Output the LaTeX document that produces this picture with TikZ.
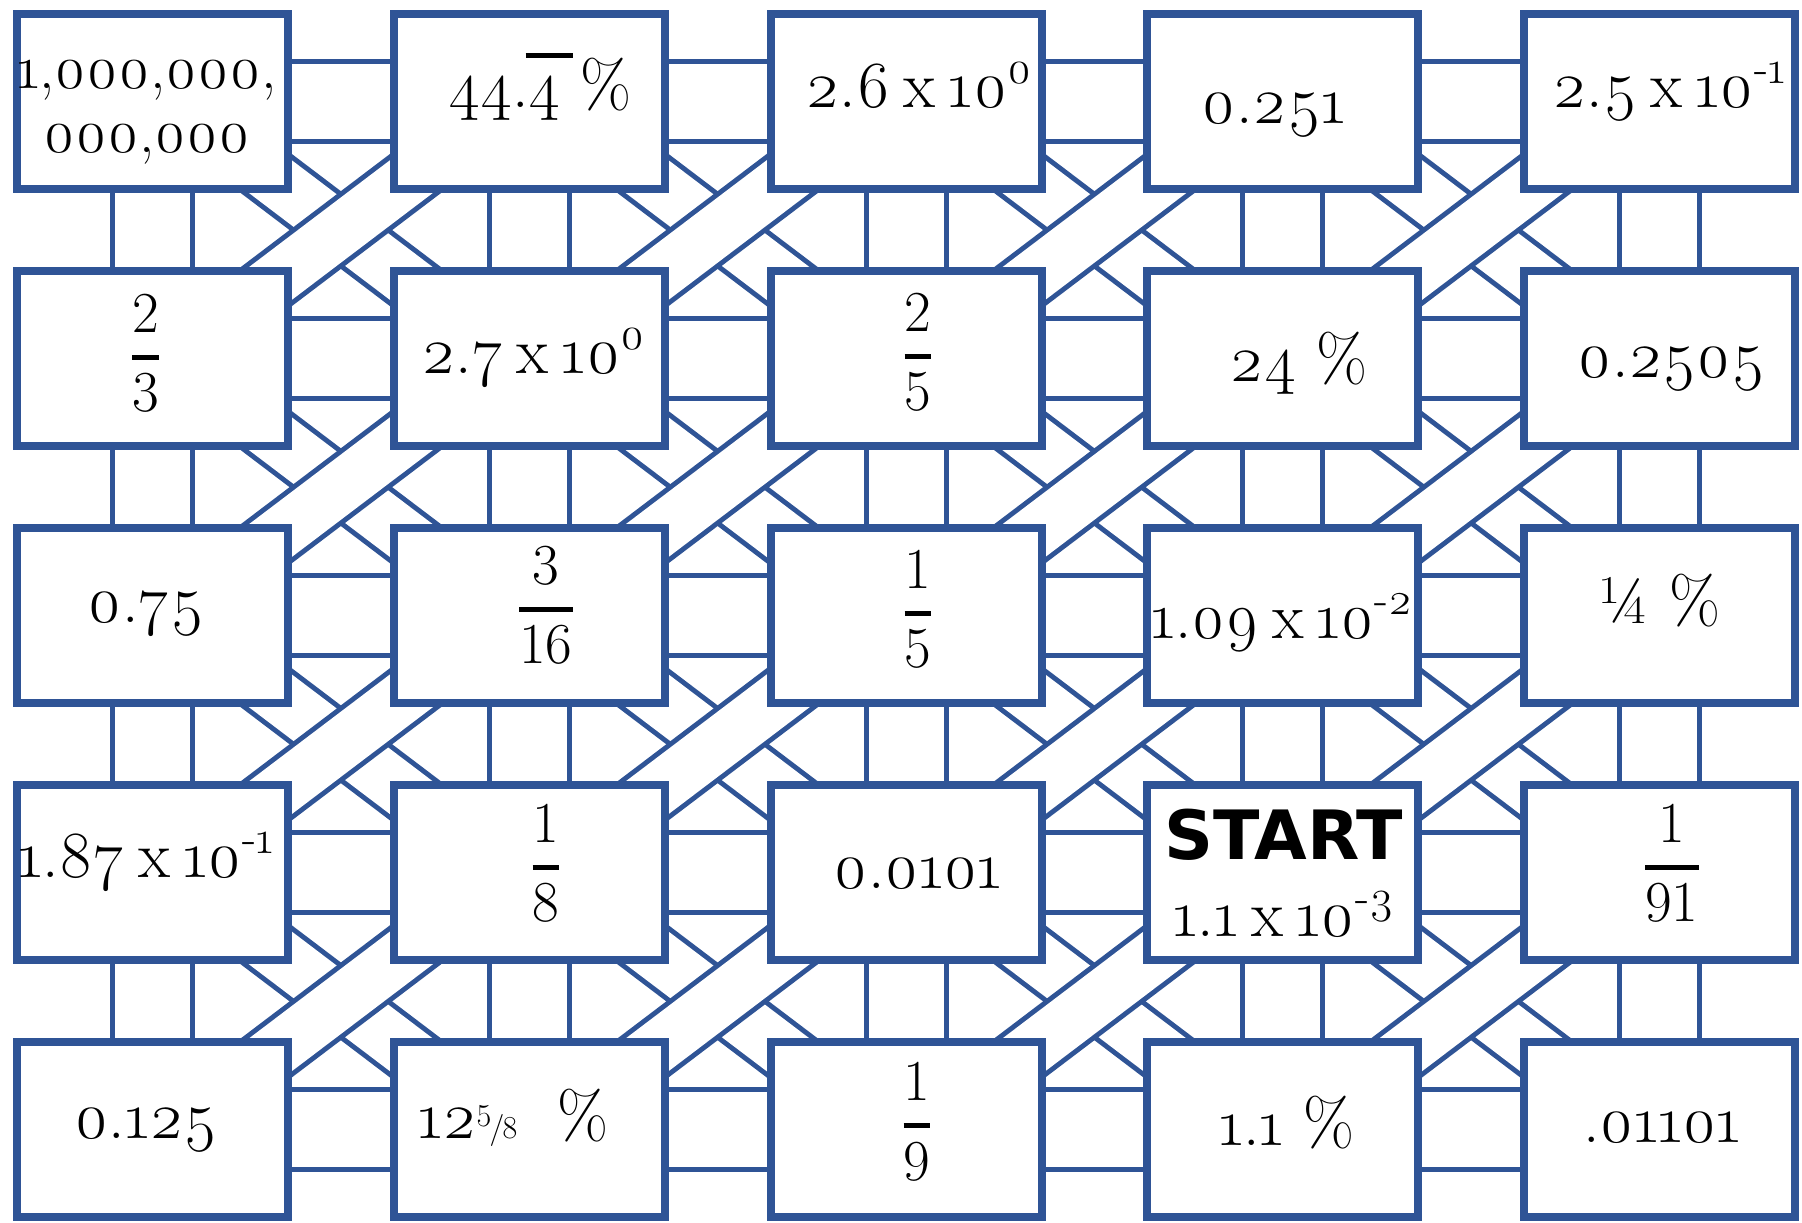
\documentclass[tikz,border=0pt]{standalone}
\usepackage{fix-cm}
\usepackage{amsmath}
\usepackage[no-math]{fontspec}
\setmainfont{Latin Modern Roman}[Numbers=OldStyle]
\newfontfamily\startfont{DejaVu Sans}
\pgfdeclarelayer{background}
\pgfsetlayers{background,main}
\definecolor{gridblue}{HTML}{2F5496}
\newcommand\sci[2]{#1\hspace{.2em}x\hspace{.2em}10\textsuperscript{#2}}
\newcommand\boxfrac[2]{$\genfrac{}{}{2.5pt}{0}{#1}{#2}$}
\newcommand\ovbar[1]{\makebox[0pt][l]{\hspace{-.05em}\raisebox{.74em}{\rule{.72em}{2.5pt}}}#1}
\tikzset{
  cell/.style={draw=gridblue, line width=4pt, fill=white, minimum width=135.5pt, minimum height=87.5pt, inner sep=0pt},
  val/.style={font=\fontsize{33}{35}\selectfont, inner sep=0pt, anchor=base},
  fracval/.style={font=\fontsize{29}{34}\selectfont, inner sep=0pt, anchor=base},
  bridge/.style={draw=gridblue, line width=2.5pt, double=white, double distance=37.5pt},
  band/.style={draw=gridblue, line width=2.5pt, double=white, double distance=26pt, shorten <=-30pt, shorten >=-30pt}
}

\begin{document}
\begin{tikzpicture}[x=0.5pt, y=-0.5pt]
	\useasboundingbox (0,0) rectangle (1802,1222);
	% boxes
	\node[cell] at (152.5,101.5) (b00) {};
	\node[cell] at (529.25,101.5) (b01) {};
	\node[cell] at (906,101.5) (b02) {};
	\node[cell] at (1282.75,101.5) (b03) {};
	\node[cell] at (1659.5,101.5) (b04) {};
	\node[cell] at (152.5,358.6) (b10) {};
	\node[cell] at (529.25,358.6) (b11) {};
	\node[cell] at (906,358.6) (b12) {};
	\node[cell] at (1282.75,358.6) (b13) {};
	\node[cell] at (1659.5,358.6) (b14) {};
	\node[cell] at (152.5,615.7) (b20) {};
	\node[cell] at (529.25,615.7) (b21) {};
	\node[cell] at (906,615.7) (b22) {};
	\node[cell] at (1282.75,615.7) (b23) {};
	\node[cell] at (1659.5,615.7) (b24) {};
	\node[cell] at (152.5,872.8) (b30) {};
	\node[cell] at (529.25,872.8) (b31) {};
	\node[cell] at (906,872.8) (b32) {};
	\node[cell] at (1282.75,872.8) (b33) {};
	\node[cell] at (1659.5,872.8) (b34) {};
	\node[cell] at (152.5,1129.9) (b40) {};
	\node[cell] at (529.25,1129.9) (b41) {};
	\node[cell] at (906,1129.9) (b42) {};
	\node[cell] at (1282.75,1129.9) (b43) {};
	\node[cell] at (1659.5,1129.9) (b44) {};
	% values
	\node[val, font=\fontsize{30.5}{32}\selectfont] at (147,88) (t00) {\begin{tabular}[t]{@{}c@{}}1,000,000,\\000,000\end{tabular}};
	\node[val] at (540,107) (t01) {44.\ovbar{4} \%};
	\node[val] at (919,107) (t02) {\sci{2.6}{0}};
	\node[val] at (1273.5,123) (t03) {0.251};
	\node[val] at (1669,107) (t04) {\sci{2.5}{-1}};
	\node[fracval] at (145.5,371.5) (t10) {\boxfrac{2}{3}};
	\node[val] at (533.5,373) (t11) {\sci{2.7}{0}};
	\node[fracval] at (918,370.5) (t12) {\boxfrac{2}{5}};
	\node[val] at (1298.5,381) (t13) {24 \%};
	\node[val] at (1671.5,377) (t14) {0.2505};
	\node[val] at (146,622) (t20) {0.75};
	\node[fracval] at (546,623.5) (t21) {\boxfrac{3}{16}};
	\node[fracval] at (918,627.5) (t22) {\boxfrac{1}{5}};
	\node[val, font=\fontsize{32.5}{35}\selectfont] at (1282,638) (t23) {\sci{1.09}{-2}};
	\node[val] at (1659.5,623) (t24) {¼ \%};
	\node[val] at (146,877) (t30) {\sci{1.87}{-1}};
	\node[fracval] at (546,881.5) (t31) {\boxfrac{1}{8}};
	\node[val] at (918,888) (t32) {0.0101};
	\node[val, font=\startfont\bfseries\fontsize{34}{34}\selectfont] at (1284,859) (t33) {START};
	\node[val] at (1284,936) (t33n) {\sci{1.1}{-3}};
	\node[fracval] at (1672,881.5) (t34) {\boxfrac{1}{91}};
	\node[val] at (146,1138) (t40) {0.125};
	\node[val] at (513,1138) (t41) {12{\fontsize{16}{16}\selectfont\addfontfeature{Numbers=Lining}\raisebox{6pt}{5}\kern-.8pt/\kern-.8pt8}\hspace{.6em}\%};
	\node[fracval] at (917,1140) (t42) {\boxfrac{1}{9}};
	\node[val] at (1287,1145) (t43) {1.1 \%};
	\node[val] at (1662,1142) (t44) {.01101};
	% bridges and crossing bands behind the boxes
	\begin{pgfonlayer}{background}
	\foreach \r in {0,...,4}{
		\foreach \c/\d in {0/1,1/2,2/3,3/4}{
			\draw[bridge] (b\r\c.center) -- (b\r\d.center);
		}
	}
	\foreach \r/\s in {0/1,1/2,2/3,3/4}{
		\foreach \c in {0,...,4}{
			\draw[bridge] (b\r\c.center) -- (b\s\c.center);
		}
	}
	\foreach \r/\s in {0/1,1/2,2/3,3/4}{
		\foreach \c/\d in {0/1,1/2,2/3,3/4}{
			\draw[band] (b\r\c.south east) -- (b\s\d.north west);
		}
	}
	\foreach \r/\s in {0/1,1/2,2/3,3/4}{
		\foreach \c/\d in {0/1,1/2,2/3,3/4}{
			\draw[band] (b\r\d.south west) -- (b\s\c.north east);
		}
	}
	\end{pgfonlayer}
\end{tikzpicture}
\end{document}
